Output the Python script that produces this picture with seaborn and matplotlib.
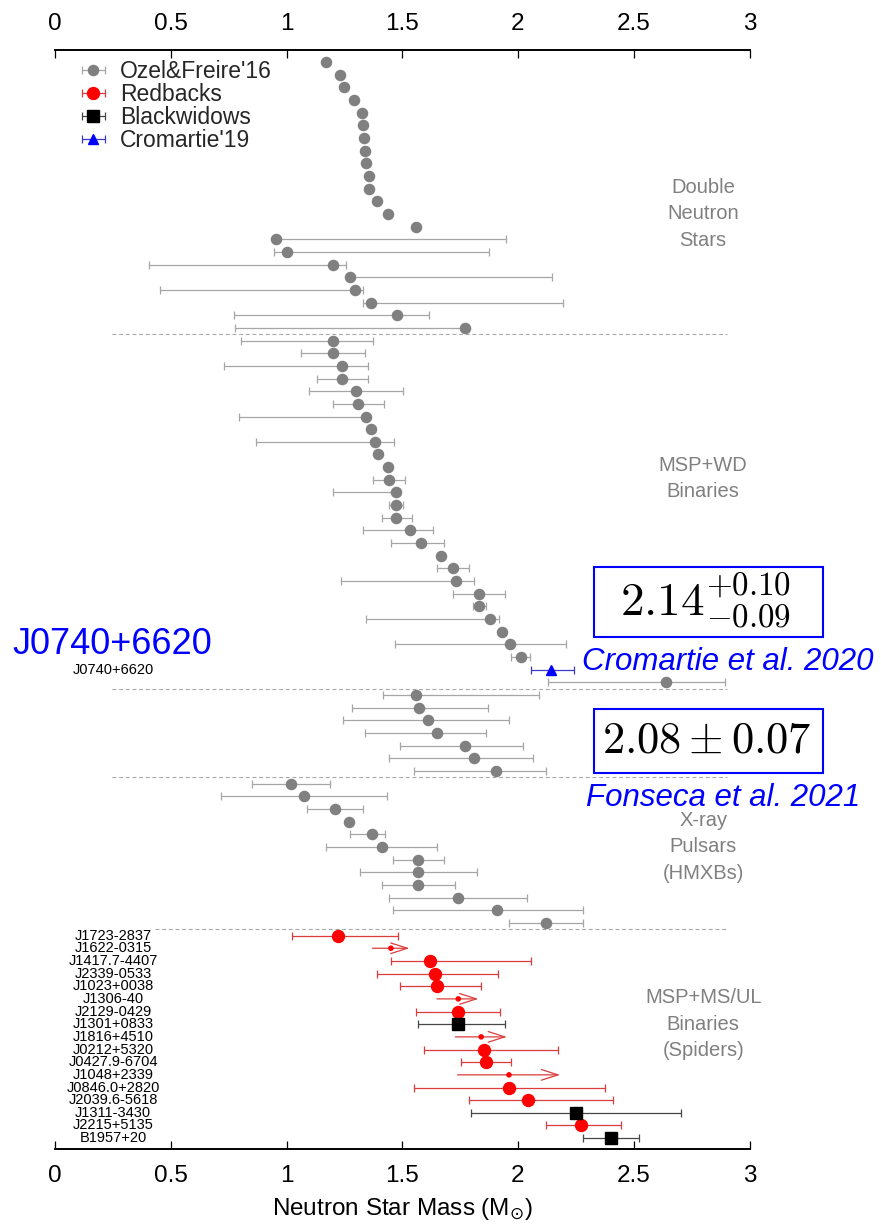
import numpy as np
import pandas as pd
import matplotlib
matplotlib.use("Agg")
import matplotlib.pyplot as plt
import seaborn as sns
from matplotlib.patches import Rectangle

# ---------------- data (masses in solar masses) ----------------
# Double neutron stars (Ozel & Freire 2016)
dns_mass = [1.171, 1.232, 1.250, 1.291, 1.324, 1.332, 1.335, 1.340, 1.344, 1.357, 1.358,
            1.390, 1.440, 1.560, 0.954, 1.003, 1.200, 1.275, 1.298, 1.364, 1.479, 1.769]
dns_lo = [1.171, 1.232, 1.250, 1.291, 1.324, 1.332, 1.335, 1.340, 1.344, 1.357, 1.358,
          1.390, 1.440, 1.560, 0.954, 0.945, 0.408, 1.275, 0.454, 1.330, 0.772, 0.777]
dns_hi = [1.171, 1.232, 1.250, 1.291, 1.324, 1.332, 1.335, 1.340, 1.344, 1.357, 1.358,
          1.390, 1.440, 1.560, 1.948, 1.874, 1.258, 2.145, 1.332, 2.194, 1.615, 1.780]

# MSP + WD binaries (one entry is Cromartie'19, J0740+6620)
wd_mass = [1.200, 1.200, 1.240, 1.240, 1.301, 1.311, 1.343, 1.367, 1.384, 1.395, 1.439, 1.442,
           1.471, 1.471, 1.471, 1.533, 1.580, 1.667, 1.720, 1.734, 1.831, 1.831, 1.879, 1.930,
           1.966, 2.013, 2.142, 2.639]
wd_lo = [0.803, 1.062, 0.729, 1.132, 1.099, 1.203, 0.796, 1.367, 0.870, 1.395, 1.439, 1.373,
         1.203, 1.442, 1.412, 1.331, 1.452, 1.667, 1.652, 1.235, 1.721, 1.805, 1.343, 1.930,
         1.468, 1.971, 2.056, 2.129]
wd_hi = [1.373, 1.341, 1.350, 1.350, 1.504, 1.420, 1.350, 1.367, 1.466, 1.395, 1.439, 1.513,
         1.491, 1.504, 1.541, 1.631, 1.682, 1.667, 1.790, 1.808, 1.942, 1.861, 1.919, 1.930,
         2.208, 2.053, 2.242, 2.895]
wd_source = ["ozel"] * 26 + ["cromartie"] + ["ozel"]

# Unlabelled group
oth_mass = [1.561, 1.572, 1.612, 1.651, 1.772, 1.812, 1.904]
oth_lo = [1.417, 1.282, 1.242, 1.341, 1.491, 1.442, 1.551]
oth_hi = [2.092, 1.871, 1.961, 1.861, 2.021, 2.063, 2.119]

# X-ray pulsars (HMXBs)
xr_mass = [1.020, 1.075, 1.211, 1.271, 1.369, 1.412, 1.570, 1.570, 1.570, 1.740, 1.911, 2.122]
xr_lo = [0.850, 0.716, 1.090, 1.271, 1.276, 1.171, 1.462, 1.319, 1.412, 1.442, 1.462, 1.961]
xr_hi = [1.188, 1.432, 1.331, 1.271, 1.427, 1.651, 1.682, 1.824, 1.730, 2.040, 2.282, 2.279]

# Spiders
sp_names = ["J1723-2837", "J1622-0315", "J1417.7-4407", "J2339-0533", "J1023+0038", "J1306-40",
            "J2129-0429", "J1301+0833", "J1816+4510", "J0212+5320", "J0427.9-6704", "J1048+2339",
            "J0846.0+2820", "J2039.6-5618", "J1311-3430", "J2215+5135", "B1957+20"]
sp_kind = ["RB", "RBlim", "RB", "RB", "RB", "RBlim", "RB", "BW", "RBlim", "RB", "RB", "RBlim",
           "RB", "RB", "BW", "RB", "BW"]
sp_mass = [1.222, 1.451, 1.622, 1.642, 1.652, 1.742, 1.742, 1.742, 1.841, 1.853, 1.861, 1.961,
           1.962, 2.043, 2.252, 2.270, 2.401]
sp_lo = [1.023, 1.371, 1.451, 1.390, 1.490, 1.650, 1.561, 1.570, 1.729, 1.592, 1.753, 1.739,
         1.550, 1.790, 1.799, 2.121, 2.280]
sp_hi = [1.481, 1.531, 2.054, 1.913, 1.841, 1.829, 1.922, 1.942, 1.952, 2.171, 1.971, 2.182,
         2.374, 2.411, 2.704, 2.443, 2.521]

section_titles = ["Double\nNeutron\nStars", "MSP+WD\nBinaries", "", "X-ray\nPulsars\n(HMXBs)",
                  "MSP+MS/UL\nBinaries\n(Spiders)"]
tick_values = [0, 0.5, 1, 1.5, 2, 2.5, 3]
tick_labels = ["0", "0.5", "1", "1.5", "2", "2.5", "3"]
legend_labels = {"ozel": "Ozel&Freire'16", "RB": "Redbacks", "BW": "Blackwidows",
                 "cromartie": "Cromartie'19"}
j0740_name = "J0740+6620"

# ---------------- table ----------------
parts = [("dns", dns_mass, dns_lo, dns_hi, ["ozel"] * len(dns_mass), [""] * len(dns_mass)),
         ("wd", wd_mass, wd_lo, wd_hi, wd_source,
          [j0740_name if s == "cromartie" else "" for s in wd_source]),
         ("oth", oth_mass, oth_lo, oth_hi, ["ozel"] * len(oth_mass), [""] * len(oth_mass)),
         ("xray", xr_mass, xr_lo, xr_hi, ["ozel"] * len(xr_mass), [""] * len(xr_mass)),
         ("spider", sp_mass, sp_lo, sp_hi, sp_kind, sp_names)]
df = pd.concat([pd.DataFrame({"section": s, "mass": m, "lo": lo, "hi": hi, "kind": k, "name": n})
                for s, m, lo, hi, k, n in parts], ignore_index=True)
df["row"] = np.arange(len(df), dtype=float)

# ---------------- figure ----------------
sns.set_theme(style="white")
plt.rcParams["font.family"] = ["Liberation Sans", "DejaVu Sans"]
plt.rcParams["mathtext.fontset"] = "dejavusans"

W, H = 881, 1229
fig = plt.figure(figsize=(W / 100, H / 100), dpi=100)
ax_left, ax_right, ax_top, ax_bot = 55, 749.5, 50, 1149.3
ax = fig.add_axes([ax_left / W, 1 - ax_bot / H, (ax_right - ax_left) / W, (ax_bot - ax_top) / H])
ax.set_facecolor("white")

styles = {
    "ozel": dict(marker="o", ms=7.3, color="#808080", ecolor="#a6a6a6"),
    "RB": dict(marker="o", ms=8.6, color="#ff0000", ecolor="#dc3c3c"),
    "BW": dict(marker="s", ms=8.4, color="#000000", ecolor="#474747"),
    "cromartie": dict(marker="^", ms=6.5, color="#0000ff", ecolor="#3a3ac8"),
}
for kind in ["ozel", "RB", "BW", "cromartie"]:
    d = df[df.kind == kind]
    st = styles[kind]
    ax.errorbar(d.mass, d.row, xerr=[d.mass - d.lo, d.hi - d.mass], fmt=st["marker"],
                ms=st["ms"], color=st["color"], mec=st["color"], ecolor=st["ecolor"],
                elinewidth=0.9, capsize=3, capthick=0.9, label=legend_labels[kind], zorder=3)

# lower limits: small dot + open arrow
lim = df[df.kind == "RBlim"]
sns.scatterplot(x=lim.mass.values, y=lim.row.values, ax=ax, color="#ff0000", s=16,
                edgecolor="none", zorder=4, legend=False)
for _, r in lim.iterrows():
    ax.annotate("", xy=(r.hi, r.row), xytext=(r.lo, r.row),
                arrowprops=dict(arrowstyle="->,head_length=1.0,head_width=0.32",
                                color="#dc3c3c", lw=0.9, shrinkA=0, shrinkB=0))

# section separators
bounds = [df.row[df.section == s].min() - 0.5 for s in ["wd", "oth", "xray", "spider"]]
sep_start = [0.246, 0.246, 0.246, 0.432]
for yb, xs in zip(bounds, sep_start):
    ax.hlines(yb, xs, 2.903, colors="#a8a8a8", linestyles=(0, (3.5, 2.5)), lw=0.8, zorder=1)

# names
for _, r in df[df.name != ""].iterrows():
    ax.text(0.251, r.row, r["name"], ha="center", va="center", fontsize=10.5, color="black")

# section titles
title_rows = [12, 32.9, None, 62, 76]
for t, yr in zip(section_titles, title_rows):
    if t:
        ax.text(2.80, yr, t, ha="center", va="center", fontsize=14.5, color="#808080",
                linespacing=1.5)

ax.set_xlim(0, 3)
ax.set_ylim(len(df) - 1 + 0.88, -0.95)
ax.set_yticks([])
ax.set_xticks(tick_values)
ax.set_xticklabels(tick_labels)
ax.grid(False)
for s in ["left", "right"]:
    ax.spines[s].set_visible(False)
for s in ["top", "bottom"]:
    ax.spines[s].set_visible(True)
    ax.spines[s].set_color("black")
    ax.spines[s].set_linewidth(1.4)
ax.tick_params(axis="x", which="both", direction="in", length=6, width=0.9, color="black",
               top=True, bottom=True, labeltop=True, labelbottom=True, labelsize=17.5,
               pad=11, labelcolor="black")
ax.set_xlabel(r"Neutron Star Mass (M$_{\odot}$)", fontsize=17.5, labelpad=7, color="black")

# legend
leg = ax.legend(loc="upper left", bbox_to_anchor=(83 / W, 1 - 60 / H), bbox_transform=fig.transFigure,
                frameon=False, fontsize=16.5, handlelength=0.9, handletextpad=0.7,
                labelspacing=0.0, borderpad=0, borderaxespad=0)

# annotations (figure pixel positions)
def fx(x):
    return x / W

def fy(y):
    return 1 - y / H

blue = "#0000ff"
fig.text(fx(112), fy(645), j0740_name, color=blue, fontsize=26, ha="center", va="center")
fig.add_artist(Rectangle((fx(594), fy(637)), (823 - 594) / W, (637 - 567) / H,
                         transform=fig.transFigure, fill=False, ec=blue, lw=1.5))
fig.text(fx(706), fy(601), r"$2.14^{+0.10}_{-0.09}$", math_fontfamily="cm", fontsize=34,
         ha="center", va="center", color="black")
fig.text(fx(728), fy(662), "Cromartie et al. 2020", color=blue, fontsize=22.5, style="italic",
         ha="center", va="center")
fig.add_artist(Rectangle((fx(594), fy(773)), (823 - 594) / W, (773 - 709) / H,
                         transform=fig.transFigure, fill=False, ec=blue, lw=1.5))
fig.text(fx(707), fy(741), r"$2.08\pm0.07$", math_fontfamily="cm", fontsize=32,
         ha="center", va="center", color="black")
fig.text(fx(723), fy(798), "Fonseca et al. 2021", color=blue, fontsize=22.5, style="italic",
         ha="center", va="center")

fig.savefig("out.png", dpi=100, facecolor="white")
